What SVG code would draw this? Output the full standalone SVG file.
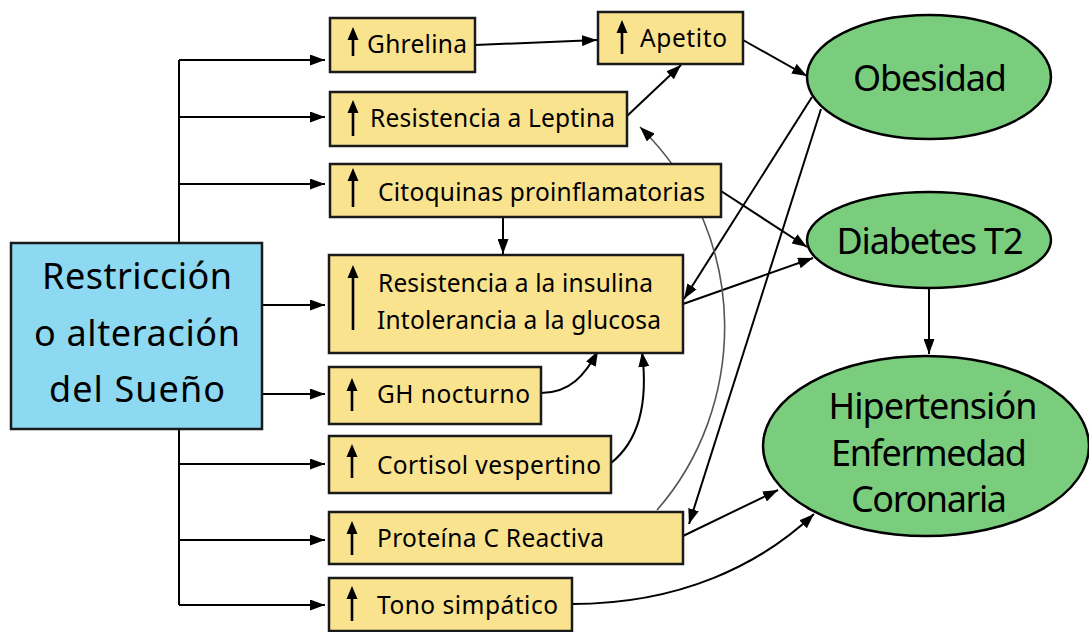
<svg xmlns="http://www.w3.org/2000/svg" width="1089" height="632" viewBox="0 0 1089 632">
  <defs>
    <marker id="arr" markerUnits="userSpaceOnUse" markerWidth="15" markerHeight="11" refX="15" refY="5.5" orient="auto">
      <path d="M0,0 L15,5.5 L0,11 z" fill="#000"/>
    </marker>
    <path id="up" d="M0,0 L5.5,13 L-5.5,13 z" fill="#000"/>
  </defs>
  <style>
    .box { fill: #FAE38F; stroke: #1a1a1a; stroke-width: 2.5; }
    .src { fill: #8DD9F1; stroke: #1a1a1a; stroke-width: 2.5; }
    .out { fill: #7ACD7D; stroke: #000; stroke-width: 2.5; }
    .t { font-family: "Noto Sans", "Open Sans", sans-serif; font-size: 24.5px; fill: #000; }
    .big { font-family: "Noto Sans", "Open Sans", sans-serif; font-size: 36px; fill: #000; text-anchor: middle; }
    .lnk { fill: none; stroke: #000; stroke-width: 2; marker-end: url(#arr); }
    .lnk2 { fill: none; stroke: #000; stroke-width: 2; }
    .gray { fill: none; stroke: #555; stroke-width: 1.6; marker-end: url(#arr); }
    .stem { stroke: #000; stroke-width: 2.6; }
  </style>

  <!-- connectors -->
  <g id="connectors">
    <!-- trunk from the sleep box -->
    <path class="lnk2" d="M179,60 L179,605"/>
    <path class="lnk" d="M179,60 L325,60"/>
    <path class="lnk" d="M179,117 L325,117"/>
    <path class="lnk" d="M179,184 L325,184"/>
    <path class="lnk" d="M262,305 L325,305"/>
    <path class="lnk" d="M262,394 L325,394"/>
    <path class="lnk" d="M179,464 L325,464"/>
    <path class="lnk" d="M179,540 L325,540"/>
    <path class="lnk" d="M179,605 L325,605"/>

    <path class="lnk" d="M475,45 L597,40"/>
    <path class="lnk" d="M627,116 L681,65"/>
    <path class="lnk" d="M743,40 L807,76"/>
    <path class="lnk" d="M812,97 L684,299"/>
    <path class="lnk" d="M821,109 L689,524"/>
    <path class="lnk" d="M721,191 L807,247"/>
    <path class="lnk" d="M683,304 L813,258"/>
    <path class="lnk" d="M929,289 L929,354"/>
    <path class="lnk" d="M503,217 L503,254"/>
    <path class="lnk" d="M541,393 C570,393 585,375 598,351"/>
    <path class="lnk" d="M611,463 C640,440 648,400 642,352"/>
    <path class="gray" d="M657,510 C745,410 755,240 640,127"/>
    <path class="lnk" d="M683,536 L778,490"/>
    <path class="lnk" d="M572,604 C680,604 760,565 814,514"/>
  </g>

  <!-- source -->
  <g id="sueno">
    <rect class="src" x="11" y="243" width="251" height="186"/>
    <text class="big" x="137" y="289" textLength="190">Restricción</text>
    <text class="big" x="137" y="346" textLength="206">o alteración</text>
    <text class="big" x="137" y="402" textLength="176">del Sueño</text>
  </g>

  <g id="ghrelina">
    <rect class="box" x="330" y="18" width="145" height="54"/>
    <line class="stem" x1="353" y1="36" x2="353" y2="56"/>
    <use href="#up" x="353" y="27"/>
    <text class="t" x="367" y="53" textLength="100">Ghrelina</text>
  </g>

  <g id="apetito">
    <rect class="box" x="598" y="12" width="145" height="52"/>
    <line class="stem" x1="622" y1="30" x2="622" y2="54"/>
    <use href="#up" x="622" y="20"/>
    <text class="t" x="640" y="47" textLength="87">Apetito</text>
  </g>

  <g id="leptina">
    <rect class="box" x="330" y="92" width="297" height="54"/>
    <line class="stem" x1="353" y1="110" x2="353" y2="136"/>
    <use href="#up" x="353" y="100"/>
    <text class="t" x="370" y="127" textLength="245">Resistencia a Leptina</text>
  </g>

  <g id="citoquinas">
    <rect class="box" x="330" y="164" width="391" height="53"/>
    <line class="stem" x1="353" y1="178" x2="353" y2="207"/>
    <use href="#up" x="353" y="168"/>
    <text class="t" x="378" y="201" textLength="327">Citoquinas proinflamatorias</text>
  </g>

  <g id="insulina">
    <rect class="box" x="329" y="255" width="354" height="98"/>
    <line class="stem" x1="353" y1="275" x2="353" y2="330"/>
    <use href="#up" x="353" y="265"/>
    <text class="t" x="378" y="292" textLength="275">Resistencia a la insulina</text>
    <text class="t" x="377" y="329" textLength="284">Intolerancia a la glucosa</text>
  </g>

  <g id="gh">
    <rect class="box" x="329" y="367" width="212" height="57"/>
    <line class="stem" x1="352" y1="388" x2="352" y2="411"/>
    <use href="#up" x="352" y="378"/>
    <text class="t" x="377" y="403" textLength="153">GH nocturno</text>
  </g>

  <g id="cortisol">
    <rect class="box" x="329" y="436" width="282" height="57"/>
    <line class="stem" x1="352" y1="454" x2="352" y2="478"/>
    <use href="#up" x="352" y="444"/>
    <text class="t" x="377" y="474" textLength="224">Cortisol vespertino</text>
  </g>

  <g id="pcr">
    <rect class="box" x="329" y="512" width="354" height="52"/>
    <line class="stem" x1="352" y1="531" x2="352" y2="555"/>
    <use href="#up" x="352" y="521"/>
    <text class="t" x="377" y="547" textLength="227">Proteína C Reactiva</text>
  </g>

  <g id="tono">
    <rect class="box" x="329" y="578" width="243" height="53"/>
    <line class="stem" x1="352" y1="596" x2="352" y2="621"/>
    <use href="#up" x="352" y="586"/>
    <text class="t" x="377" y="614" textLength="181">Tono simpático</text>
  </g>

  <g id="obesidad">
    <ellipse class="out" cx="929" cy="77" rx="122" ry="62"/>
    <text class="big" x="930" y="91" font-size="35" textLength="154">Obesidad</text>
  </g>

  <g id="diabetes">
    <ellipse class="out" cx="929" cy="240" rx="122" ry="48"/>
    <text class="big" x="930" y="254" font-size="35" textLength="187">Diabetes T2</text>
  </g>

  <g id="hipertension">
    <ellipse class="out" cx="926" cy="446" rx="163" ry="90"/>
    <text class="big" x="933" y="419" font-size="35" textLength="209">Hipertensión</text>
    <text class="big" x="929" y="466" font-size="35" textLength="196">Enfermedad</text>
    <text class="big" x="929" y="512" font-size="35" textLength="156">Coronaria</text>
  </g>
</svg>
